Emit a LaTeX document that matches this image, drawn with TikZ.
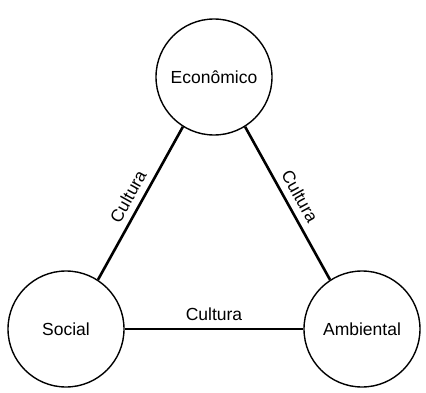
\documentclass[tikz,border=0pt]{standalone}
\usepackage{fontspec}
\setmainfont{Liberation Sans}
\begin{document}
\begin{tikzpicture}[x=1pt,y=1pt,
  pillar/.style={circle,draw=black,line width=1.4pt,minimum size=116pt,inner sep=0pt,font=\fontsize{17.5}{20}\selectfont},
  link/.style={line width=2.6pt,draw=black},
  tag/.style={inner sep=0pt,font=\fontsize{17.5}{20}\selectfont}]
\useasboundingbox (0,0) rectangle (426,392);
\node[pillar] (eco) at (214,315) {Econômico};
\node[pillar] (soc) at (66,63) {Social};
\node[pillar] (amb) at (362,63) {Ambiental};
\draw[link] (soc.57) -- node[tag,sloped,above=6.5pt] {Cultura} (eco.238);
\draw[link] (eco.302) -- node[tag,sloped,above=6.5pt] {Cultura} (amb.123);
\draw[link] (soc.east) -- node[tag,above=7pt] {Cultura} (amb.west);
\end{tikzpicture}
\end{document}
